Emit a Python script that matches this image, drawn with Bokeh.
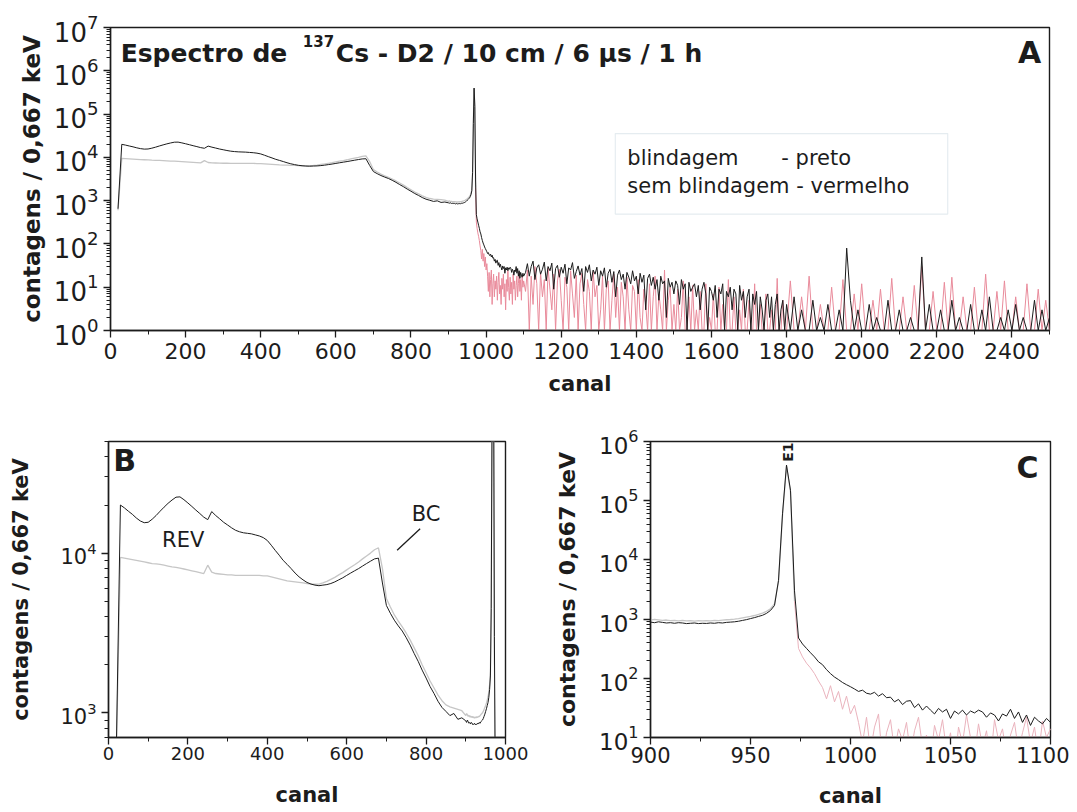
import math
from bokeh.plotting import figure
from bokeh.layouts import column, row
from bokeh.models import (Range1d, SingleIntervalTicker, FixedTicker, LogTickFormatter,
                          Label, BoxAnnotation, ColumnDataSource)
from bokeh.embed import file_html
from bokeh.resources import INLINE

# ---------------- data ----------------
# coarse channels 20..890 (step 10)
ch_lo = list(range(20, 900, 10))
blind_lo = [650, 20000, 19200, 18300, 17500, 16600, 15900, 15500, 15600,
            16300, 17200, 18300, 19400, 20500, 21500, 22400, 22500, 21600, 20600,
            19600, 18600, 17700, 16800, 16200, 18200, 17200, 16400, 15600, 15000,
            14400, 13900, 13600, 13400, 13300, 13200, 13000, 12800, 12500, 12000,
            11200, 10400, 9700, 9000, 8500, 8000, 7500, 7100, 6800, 6550,
            6400, 6300, 6250, 6300, 6350, 6450, 6600, 6800, 7000, 7250,
            7500, 7750, 8000, 8300, 8600, 8900, 9200, 9300, 6500, 4700,
            4200, 3800, 3500, 3250, 2950, 2650, 2350, 2100, 1850, 1650,
            1460, 1320, 1180, 1080, 1020, 960, 990, 910, 930]
sem_lo = [600, 9400, 9300, 9200, 9100, 9000, 8900, 8800, 8700,
          8600, 8550, 8500, 8400, 8300, 8200, 8150, 8050, 7950, 7850,
          7750, 7650, 7550, 7450, 8400, 7600, 7450, 7400, 7350, 7300,
          7300, 7250, 7250, 7250, 7250, 7250, 7250, 7250, 7200, 7200,
          7100, 7000, 6900, 6800, 6700, 6650, 6600, 6550, 6500, 6450,
          6400, 6380, 6400, 6500, 6650, 6850, 7050, 7300, 7550, 7850,
          8150, 8450, 8800, 9200, 9600, 10000, 10500, 10800, 8000, 5200,
          4600, 4100, 3750, 3450, 3150, 2850, 2550, 2280, 2000, 1780,
          1580, 1430, 1290, 1190, 1120, 1090, 1070, 1050, 1030]

# fine channels 900..1100 (step 2)
ch_fine = list(range(900, 1101, 2))
blind_fine = [890, 870, 900, 880, 860, 870, 850, 870, 860, 840,
              850, 860, 840, 850, 845, 860, 850, 870, 860, 880,
              890, 900, 920, 950, 980, 1020, 1060, 1110, 1160, 1250,
              1400, 1700, 4500, 60000, 400000, 150000, 3000, 480, 380, 320,
              270, 230, 190, 170, 140, 120, 105, 95, 85, 78,
              72, 66, 60, 63, 56, 54, 58, 50, 55, 47,
              48, 40, 44, 36, 41, 42, 32, 37, 29, 34,
              29, 25, 31, 27, 30, 21, 28, 25, 29, 24,
              28, 26, 29, 27, 22, 26, 24, 19, 25, 23,
              30, 21, 27, 18, 24, 16, 22, 19, 17, 21,
              18]
sem_fine = [960, 990, 970, 950, 965, 940, 955, 935, 950, 930,
            945, 925, 940, 930, 945, 935, 950, 945, 960, 975,
            985, 1000, 1020, 1050, 1080, 1110, 1150, 1200, 1260, 1350,
            1500, 1800, 4300, 55000, 380000, 140000, 2000, 320, 230, 180,
            150, 120, 90, 70, 45, 75, 40, 60, 30, 50,
            25, 35, 18, 8, 22, 6, 15, 25, 4, 12,
            20, 6, 14, 9, 18, 5, 13, 22, 7, 11,
            4, 16, 9, 20, 6, 12, 3, 15, 8, 24,
            10, 5, 17, 7, 13, 4, 20, 9, 14, 5,
            11, 18, 6, 12, 22, 8, 15, 5, 19, 10,
            14]

# high channels 1105..1795 (step 5) and 1800..2500 (step 10)
ch_hi = list(range(1105, 1800, 5)) + list(range(1800, 2501, 10))
blind_hi = [22, 35, 18, 30, 40, 15, 28, 33, 20, 26,
            38, 14, 30, 24, 36, 9, 27, 32, 17, 29,
            21, 34, 12, 28, 25, 37, 16, 23, 31, 19,
            27, 8, 30, 22, 33, 14, 25, 20, 29, 11,
            24, 18, 28, 10, 21, 26, 13, 23, 6, 19,
            25, 15, 20, 9, 22, 17, 12, 24, 14, 18,
            7, 21, 13, 19, 3, 16, 20, 11, 17, 9,
            15, 5, 18, 12, 14, 2, 16, 10, 13, 7,
            14, 11, 4, 15, 9, 12, 1, 13, 8, 10,
            12, 6, 11, 3, 9, 13, 7, 1, 10, 8,
            5, 11, 2, 9, 7, 12, 1, 8, 6, 10,
            3, 9, 7, 1, 11, 5, 8, 2, 6, 9,
            1, 7, 4, 8, 1, 6, 3, 1, 5, 7,
            2, 6, 1, 4, 7, 1, 3, 5, 1,
            4, 1, 6, 1, 3, 1, 1, 5, 1, 2,
            1, 4, 1, 1, 3, 1, 80, 5, 1, 3,
            1, 1, 4, 1, 2, 1, 1, 5, 1, 1,
            3, 1, 1, 2, 1, 1, 50, 1, 4, 1,
            1, 3, 1, 1, 5, 1, 2, 1, 1, 4,
            1, 1, 3, 1, 6, 1, 1, 2, 1, 3,
            1, 4, 1, 2, 1, 1, 5, 1, 3, 1,
            2]
sem_hi = [8, 25, 1, 18, 4, 30, 12, 1, 22, 6,
          15, 1, 28, 9, 3, 20, 1, 14, 26, 5,
          1, 17, 10, 1, 24, 7, 2, 19, 1, 12,
          21, 4, 1, 15, 8, 1, 23, 6, 11, 1,
          3, 18, 1, 9, 14, 1, 5, 20, 2, 10,
          1, 13, 6, 1, 17, 3, 1, 11, 8, 1,
          15, 2, 1, 9, 4, 1, 12, 1, 6, 18,
          1, 7, 3, 1, 25, 1, 5, 10, 1, 4,
          1, 9, 1, 2, 14, 1, 1, 6, 1, 11,
          1, 3, 1, 8, 1, 1, 12, 1, 2, 1,
          7, 1, 1, 10, 1, 4, 1, 1, 15, 1,
          1, 6, 1, 1, 3, 1, 9, 1, 1, 5,
          1, 1, 12, 1, 1, 4, 1, 1, 7, 1,
          1, 3, 1, 1, 16, 1, 1, 5, 1,
          1, 14, 1, 1, 6, 1, 18, 1, 1, 4,
          1, 1, 10, 1, 1, 15, 1, 1, 7, 1,
          12, 1, 1, 5, 1, 9, 1, 1, 16, 1,
          1, 6, 1, 1, 11, 1, 30, 1, 1, 8,
          1, 1, 13, 1, 17, 1, 1, 6, 1, 1,
          10, 1, 1, 20, 1, 1, 8, 1, 14, 1,
          1, 6, 1, 1, 12, 1, 1, 9, 1, 5,
          1]

# tick labels / texts
ylabel = "contagens / 0,667 keV"
xlabel = "canal"
legend_lines = ["blindagem", "- preto", "sem blindagem - vermelho"]

canal = ch_lo + ch_fine + ch_hi
blind = blind_lo + blind_fine + blind_hi
sem = sem_lo + sem_fine + sem_hi
cut = canal.index(972)

FONT = "DejaVu Sans"
INK = "#1c1c1c"
GRAY = "#c6c6c6"
PINK = "#e98b9b"


def minor_log(k0, k1, lo=None, hi=None):
    out = [m * 10 ** k for k in range(k0, k1) for m in range(2, 10)]
    if lo is not None:
        out = [t for t in out if lo <= t <= hi]
    return out


def make_fig(w, h, xr, yr, bl, br, bt, bb):
    p = figure(width=w, height=h, x_range=Range1d(*xr), y_range=Range1d(*yr),
               y_axis_type="log", output_backend="svg", toolbar_location=None,
               min_border_left=bl, min_border_right=br, min_border_top=bt,
               min_border_bottom=bb)
    p.xgrid.visible = False
    p.ygrid.visible = False
    p.outline_line_color = INK
    p.outline_line_width = 1.4
    p.background_fill_color = "white"
    p.border_fill_color = "white"
    for ax in (p.xaxis[0], p.yaxis[0]):
        ax.axis_line_color = INK
        ax.axis_line_width = 1.4
        ax.major_tick_line_color = INK
        ax.minor_tick_line_color = INK
        ax.major_tick_line_width = 1.3
        ax.major_tick_out = 7
        ax.major_tick_in = 0
        ax.minor_tick_out = 4
        ax.minor_tick_in = 0
        ax.major_label_text_font = FONT
        ax.major_label_text_color = INK
        ax.axis_label_text_font = FONT
        ax.axis_label_text_font_style = "bold"
        ax.axis_label_text_color = INK
    return p


def draw(p, gray_first, gray_second):
    sa = ColumnDataSource(dict(x=canal[:cut + 1], y=sem[:cut + 1]))
    sb = ColumnDataSource(dict(x=canal[cut:], y=sem[cut:]))
    sk = ColumnDataSource(dict(x=canal, y=blind))
    p.line("x", "y", source=sa, line_color=gray_first, line_width=1.3)
    p.line("x", "y", source=sb, line_color=gray_second, line_width=1.0)
    p.line("x", "y", source=sk, line_color=INK, line_width=1.0)


def lab(p, x, y, text, size, bold=False, align="left", base="middle", angle=0, color=INK):
    p.add_layout(Label(x=x, y=y, text=text, text_font=FONT, text_font_size=size,
                       text_font_style="bold" if bold else "normal", text_align=align,
                       text_baseline=base, angle=angle, text_color=color))


# ---------------- panel A ----------------
pA = make_fig(1069, 408, (0, 2500), (1, 1e7), 110, 20, 27, 78)
pA.xaxis[0].ticker = SingleIntervalTicker(interval=200, num_minor_ticks=2)
pA.yaxis[0].ticker = FixedTicker(ticks=[10 ** k for k in range(0, 8)], minor_ticks=minor_log(0, 7))
pA.yaxis[0].formatter = LogTickFormatter()
pA.xaxis[0].major_label_text_font_size = "22px"
pA.yaxis[0].major_label_text_font_size = "26px"
pA.xaxis[0].axis_label = xlabel
pA.yaxis[0].axis_label = ylabel
pA.xaxis[0].axis_label_text_font_size = "21px"
pA.yaxis[0].axis_label_text_font_size = "23px"
pA.xaxis[0].axis_label_standoff = 10
pA.yaxis[0].axis_label_standoff = 6
draw(pA, GRAY, PINK)
pA.add_layout(BoxAnnotation(left=1344, right=2229, bottom=490, top=35400,
                            fill_color="white", fill_alpha=1.0,
                            line_color="#a9bfcc", line_width=1.2))
lab(pA, 1376, 9800, legend_lines[0], "21px")
lab(pA, 1786, 9800, legend_lines[1], "21px")
lab(pA, 1376, 2200, legend_lines[2], "21px")
lab(pA, 27, 2.5e6, "Espectro de", "25px", bold=True)
lab(pA, 512, 4.8e6, "137", "15px", bold=True)
lab(pA, 600, 2.5e6, "Cs - D2 / 10 cm / 6 \u03bcs / 1 h", "25px", bold=True)
lab(pA, 2478, 2.6e6, "A", "30px", bold=True, align="right")

# ---------------- panel B ----------------
pB = make_fig(538, 402, (0, 1000), (700, 50000), 108, 33, 32, 68)
pB.xaxis[0].ticker = SingleIntervalTicker(interval=200, num_minor_ticks=2)
pB.yaxis[0].ticker = FixedTicker(ticks=[1000, 10000], minor_ticks=minor_log(2, 5, 700, 50000))
pB.yaxis[0].formatter = LogTickFormatter()
pB.xaxis[0].major_label_text_font_size = "18px"
pB.yaxis[0].major_label_text_font_size = "21px"
pB.xaxis[0].major_label_standoff = 2
pB.xaxis[0].axis_label = xlabel
pB.yaxis[0].axis_label = ylabel
pB.xaxis[0].axis_label_text_font_size = "21px"
pB.yaxis[0].axis_label_text_font_size = "21px"
pB.xaxis[0].axis_label_standoff = 20
pB.yaxis[0].axis_label_standoff = 24
draw(pB, GRAY, GRAY)
lab(pB, 12, 38000, "B", "30px", bold=True)
lab(pB, 135, 12000, "REV", "21px")
lab(pB, 800, 17500, "BC", "21px", align="center")
bc_arrow_x = [785, 727]
bc_arrow_y = [14200, 10430]
pB.line(bc_arrow_x, bc_arrow_y, line_color=INK, line_width=1.3)

# ---------------- panel C ----------------
pC = make_fig(531, 402, (900, 1100), (10, 1e6), 112, 19, 33, 67)
pC.xaxis[0].ticker = SingleIntervalTicker(interval=50, num_minor_ticks=2)
pC.yaxis[0].ticker = FixedTicker(ticks=[10 ** k for k in range(1, 7)], minor_ticks=minor_log(1, 6))
pC.yaxis[0].formatter = LogTickFormatter()
pC.xaxis[0].major_label_text_font_size = "21px"
pC.yaxis[0].major_label_text_font_size = "23px"
pC.xaxis[0].major_label_standoff = 2
pC.xaxis[0].axis_label = xlabel
pC.yaxis[0].axis_label = ylabel
pC.xaxis[0].axis_label_text_font_size = "21px"
pC.yaxis[0].axis_label_text_font_size = "22px"
pC.xaxis[0].axis_label_standoff = 18
pC.yaxis[0].axis_label_standoff = 16
draw(pC, GRAY, "#eab3bd")
lab(pC, 1094, 3.7e5, "C", "30px", bold=True, align="right")
lab(pC, 968.5, 6.6e5, "E1", "14px", bold=True, align="center", angle=math.pi / 2)

layout = column(pA, row(pB, pC))
open("out.html", "w").write(file_html(layout, INLINE))
